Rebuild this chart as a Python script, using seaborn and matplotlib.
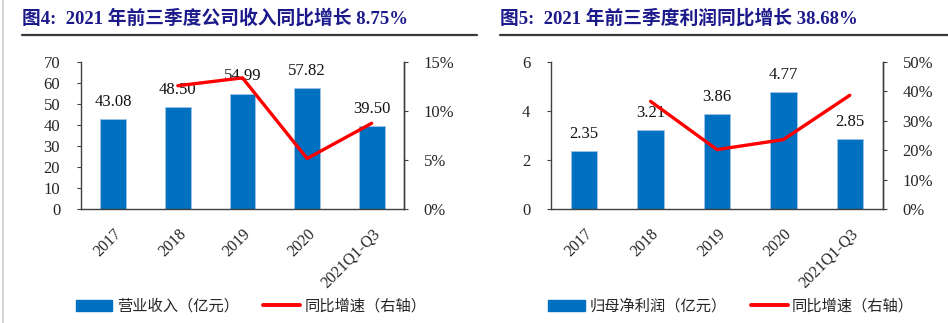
import numpy as np
import pandas as pd
import matplotlib
matplotlib.use("Agg")
import matplotlib.pyplot as plt
from matplotlib.lines import Line2D
from matplotlib.patches import Patch
from matplotlib.ticker import PercentFormatter
import seaborn as sns

sns.set_theme(style="white")
plt.rcParams['font.family'] = ['Liberation Serif', 'Noto Sans CJK SC', 'DejaVu Sans']

categories = ["2017", "2018", "2019", "2020", "2021Q1-Q3"]
revenue = [43.08, 48.50, 54.99, 57.82, 39.50]
revenue_growth = [np.nan, 12.58, 13.38, 5.15, 8.75]
profit = [2.35, 3.21, 3.86, 4.77, 2.85]
profit_growth = [np.nan, 36.6, 20.2, 23.6, 38.68]

title_left = "图4:  2021 年前三季度公司收入同比增长 8.75%"
title_right = "图5:  2021 年前三季度利润同比增长 38.68%"
bar_label_left = "营业收入（亿元）"
bar_label_right = "归母净利润（亿元）"
line_label = "同比增速（右轴）"

BLUE = "#0070C0"
RED = "#FF0000"
SPINE = "#404040"
NAVY = "#1c1a8a"

fig = plt.figure(figsize=(9.48, 3.23), dpi=100)
W, H = 948, 323


def fx(px):
    return px / W


def fy(py):
    return 1 - py / H


def panel(rect, vals, growth, ylim, ystep, y2lim, y2step):
    ax = fig.add_axes(rect)
    df = pd.DataFrame({"cat": categories, "val": vals})
    sns.barplot(data=df, x="cat", y="val", ax=ax, color=BLUE, width=0.4,
                saturation=1, edgecolor="#9dc3e6", linewidth=0.6)
    ax.set_xlim(-0.5, len(categories) - 0.5)
    ax.set_ylim(*ylim)
    ax.set_yticks(np.arange(ylim[0], ylim[1] + ystep / 2, ystep))
    ax.set_xlabel("")
    ax.set_ylabel("")
    ax.set_xticks(np.arange(len(categories)))
    ax.set_xticklabels(categories, rotation=45, ha="right", rotation_mode="anchor",
                       fontsize=11.5)
    ax.tick_params(axis="x", length=0, pad=12)
    # boundary ticks (inward)
    ax.set_xticks(np.arange(len(categories) - 1) + 0.5, minor=True)
    ax.tick_params(axis="x", which="minor", direction="in", length=3,
                   color=SPINE, width=0.8)
    ax.tick_params(axis="y", direction="out", length=3, color=SPINE, width=0.8,
                   labelsize=12, pad=12, left=True)
    for sp in ["left", "bottom", "right"]:
        ax.spines[sp].set_visible(True)
        ax.spines[sp].set_color(SPINE)
        ax.spines[sp].set_linewidth(1.0)
    ax.spines["top"].set_visible(False)
    ax.grid(False)
    for i, v in enumerate(vals):
        ax.annotate(f"{v:.2f}", (i, v), xytext=(0, 6.5), textcoords="offset points",
                    ha="center", va="bottom", fontsize=12, color="#111111")

    ax2 = ax.twinx()
    ldf = pd.DataFrame({"x": np.arange(len(categories)), "g": growth}).dropna()
    sns.lineplot(data=ldf, x="x", y="g", ax=ax2, color=RED, linewidth=2.4)
    ax2.set_xlim(-0.5, len(categories) - 0.5)
    ax2.set_ylim(*y2lim)
    ax2.set_yticks(np.arange(y2lim[0], y2lim[1] + y2step / 2, y2step))
    ax2.yaxis.set_major_formatter(PercentFormatter(decimals=0))
    ax2.set_ylabel("")
    ax2.set_xlabel("")
    ax2.tick_params(axis="y", direction="out", length=3, color=SPINE, width=0.8,
                    labelsize=12, pad=11, right=True)
    for sp in ["top", "left", "bottom"]:
        ax2.spines[sp].set_visible(False)
    ax2.spines["right"].set_color(SPINE)
    ax2.spines["right"].set_linewidth(1.0)
    ax2.grid(False)
    return ax


ax_l = panel([fx(81), fy(209), fx(404 - 81), (209 - 62) / H], revenue, revenue_growth,
             (0, 70), 10, (0, 15), 5)
ax_r = panel([fx(551), fy(209), fx(883 - 551), (209 - 62) / H], profit, profit_growth,
             (0, 6), 2, (0, 50), 10)

# titles
title_font = ['Liberation Serif', 'Noto Sans CJK SC']
fig.text(fx(22), fy(18), title_left, fontsize=13.5, fontweight="bold", color=NAVY,
         va="center", ha="left", family=title_font)
fig.text(fx(500), fy(18), title_right, fontsize=13.5, fontweight="bold", color=NAVY,
         va="center", ha="left", family=title_font)
fig.add_artist(Line2D([fx(22), fx(477)], [fy(35), fy(35)], color="#3a3a3a", lw=1.6))
fig.add_artist(Line2D([fx(500), fx(948)], [fy(35), fy(35)], color="#3a3a3a", lw=1.6))
fig.add_artist(Line2D([fx(3), fx(3)], [0, 1], color="#cccccc", lw=1.2))

# legends
leg_font = {"family": ['Noto Sans CJK SC', 'DejaVu Sans'], "size": 11}
for lab, cx in [(bar_label_left, 251), (bar_label_right, 731)]:
    handles = [Patch(facecolor=BLUE, edgecolor=BLUE, label=lab),
               Line2D([0], [0], color=RED, lw=2.8, label=line_label)]
    fig.legend(handles=handles, loc="center", bbox_to_anchor=(fx(cx), fy(306)),
               ncol=2, frameon=False, prop=leg_font, handlelength=2.4,
               handleheight=0.7, handletextpad=0.3, columnspacing=1.6)

fig.savefig("out.png", dpi=100)
